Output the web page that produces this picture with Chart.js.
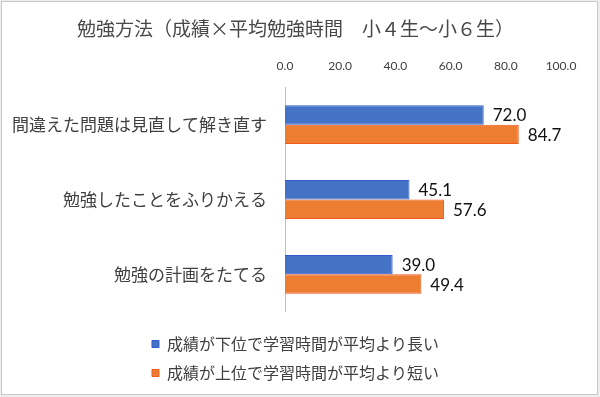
<!DOCTYPE html>
<html lang="ja">
<head>
  <meta charset="UTF-8">
  <title>勉強方法（成績×平均勉強時間）</title>
  <script src="https://cdn.jsdelivr.net/npm/chart.js"></script>
  <style>
    body { margin: 0; background: #eeeeee; }
    #frame {
      position: absolute; left: 1px; top: 1px;
      width: 595px; height: 392px;
      border: 1px solid #c8c8c8; background: #fff;
    }
  </style>
</head>
<body>
  <div id="frame"><canvas id="studyChart"></canvas></div>

  <script>
    const categories = ['間違えた問題は見直して解き直す', '勉強したことをふりかえる', '勉強の計画をたてる'];
    const seriesNames = ['成績が下位で学習時間が平均より長い', '成績が上位で学習時間が平均より短い'];
    const lowerLongValues = [72.0, 45.1, 39.0];
    const upperShortValues = [84.7, 57.6, 49.4];
    const xTicks = [0, 20, 40, 60, 80, 100];

    const jpFont = "'Noto Sans CJK JP', 'Noto Sans', sans-serif";
    const numFont = "Lato, 'Liberation Sans', sans-serif";

    // draws the value next to each bar end
    const valueLabels = {
      id: 'valueLabels',
      afterDatasetsDraw(chart) {
        const ctx = chart.ctx;
        ctx.save();
        ctx.font = '17px ' + numFont;
        ctx.fillStyle = '#111';
        ctx.textAlign = 'left';
        ctx.textBaseline = 'middle';
        chart.data.datasets.forEach((ds, i) => {
          chart.getDatasetMeta(i).data.forEach((bar, j) => {
            ctx.fillText(ds.data[j].toFixed(1), bar.x + 9, bar.y + 1);
          });
        });
        ctx.restore();
      }
    };

    new Chart(document.getElementById('studyChart'), {
      type: 'bar',
      data: {
        labels: categories,
        datasets: [{
          label: seriesNames[0],
          data: lowerLongValues,
          backgroundColor: '#4472C4',
          borderColor: '#2F5BD0',
          borderWidth: 1,
          categoryPercentage: 0.52,
          barPercentage: 1
        }, {
          label: seriesNames[1],
          data: upperShortValues,
          backgroundColor: '#ED7D31',
          borderColor: '#F2591E',
          borderWidth: 1,
          categoryPercentage: 0.52,
          barPercentage: 1
        }]
      },
      options: {
        indexAxis: 'y',
        responsive: true,
        maintainAspectRatio: false,
        animation: false,
        layout: { padding: { left: 0, right: 8, top: 0, bottom: 3 } },
        plugins: {
          title: {
            display: true,
            text: '勉強方法（成績×平均勉強時間　小４生～小６生）',
            color: '#484848',
            font: { family: jpFont, size: 19, weight: 'normal' },
            padding: { top: 15, bottom: 5 }
          },
          legend: {
            position: 'bottom',
            title: { display: true, text: ' ', font: { size: 1 }, padding: { top: 10, bottom: 0 } },
            labels: {
              boxWidth: 7,
              boxHeight: 7,
              padding: 13,
              color: '#404040',
              font: { family: jpFont, size: 16 }
            }
          },
          tooltip: { enabled: false }
        },
        scales: {
          x: {
            position: 'top',
            min: 0,
            max: 100,
            afterBuildTicks: axis => { axis.ticks = xTicks.map(v => ({ value: v })); },
            afterFit: scale => { scale.paddingRight = 36; },
            ticks: {
              padding: 14,
              color: '#404040',
              font: { family: numFont, size: 12 },
              callback: v => Number(v).toFixed(1)
            },
            grid: { display: false, drawTicks: false },
            border: { display: false }
          },
          y: {
            afterFit: scale => { scale.width = 283; },
            ticks: {
              padding: 18,
              color: '#404040',
              font: { family: jpFont, size: 17 }
            },
            grid: { display: false, drawTicks: false },
            border: { display: true, color: '#bfbfbf', width: 1 }
          }
        }
      },
      plugins: [valueLabels]
    });
  </script>
</body>
</html>
